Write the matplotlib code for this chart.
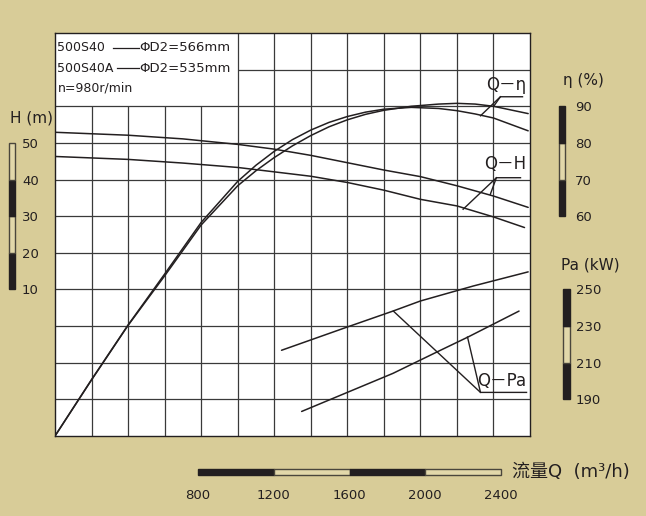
import numpy as np
import matplotlib
matplotlib.use('Agg')
import matplotlib.pyplot as plt
from matplotlib.lines import Line2D

plt.rcParams['font.family'] = ['DejaVu Sans', 'Noto Sans CJK SC']

BG = '#d8cc98'
LIGHT = '#e2d8aa'
INK = '#231f20'
EDGE = '#4a463c'
W, H = 646, 516

# Q-η (效率)
q_eta = [0, 200, 400, 600, 800, 1000, 1100, 1200, 1300, 1400, 1500, 1600,
         1700, 1800, 1950, 2100, 2200, 2300, 2400, 2590]
eta_566 = [0, 15.3, 30.2, 43.7, 57.6, 68.3, 72.4, 76.0, 79.2, 82.0, 84.4, 86.3,
           87.8, 88.9, 90.0, 90.6, 90.8, 90.6, 90.0, 88.0]
eta_535 = [0, 15.4, 30.3, 44.2, 58.3, 69.5, 73.9, 77.7, 80.9, 83.5, 85.6, 87.2,
           88.4, 89.2, 89.7, 89.4, 88.8, 87.9, 86.8, 83.3]

# Q-H (扬程)
q_h566 = [0, 400, 700, 1000, 1200, 1400, 1600, 1800, 2000, 2200, 2400, 2590]
h_566 = [52.9, 52.1, 51.1, 49.6, 48.3, 46.6, 44.6, 42.6, 40.8, 38.3, 35.5, 32.4]
q_h535 = [0, 400, 700, 1000, 1200, 1400, 1600, 1800, 2000, 2200, 2400, 2570]
h_535 = [46.3, 45.5, 44.5, 43.3, 42.1, 40.9, 39.2, 37.1, 34.6, 32.8, 29.8, 26.9]

# Q-Pa (轴功率)
q_pa566 = [1240, 1600, 1850, 2000, 2290, 2590]
pa_566 = [216.8, 229.5, 238.2, 243.7, 251.9, 259.6]
q_pa535 = [1350, 1850, 2110, 2260, 2540]
pa_535 = [183.4, 204.2, 216.8, 224.0, 238.2]

# 刻度条
h_ticks = [10, 20, 30, 40, 50]
eta_ticks = [60, 70, 80, 90]
pa_ticks = [190, 210, 230, 250]
q_ticks = [800, 1200, 1600, 2000, 2400]


def fx(px):
    return px / W


def fy(py):
    return 1 - py / H


fig = plt.figure(figsize=(W / 100, H / 100), dpi=100, facecolor=BG)

# 主图区
rect = [fx(55), fy(436), fx(530) - fx(55), fy(33) - fy(436)]
ax = fig.add_axes(rect)
ax.set_xlim(0, 2600)
ax.set_ylim(0, 110)
ax.set_facecolor('white')
ax.set_xticks([])
ax.set_yticks([])
for s in ax.spines.values():
    s.set_color(INK)
    s.set_linewidth(1.0)

grid_kw = dict(color='#3a3a3a', lw=0.9, zorder=1)
for q in range(200, 2600, 200):
    ax.vlines(q, 0, 90 if q < 1000 else 110, **grid_kw)
for e in range(10, 110, 10):
    ax.hlines(e, 1000 if e == 100 else 0, 2600, **grid_kw)

axH = ax.twinx()
axH.set_ylim(-30, 80)
axP = ax.twinx()
axP.set_ylim(170, 390)
for a in (axH, axP):
    a.axis('off')

line_kw = dict(color=INK, lw=1.1, solid_capstyle='round')
ax.plot(q_eta, eta_566, **line_kw, zorder=3)
ax.plot(q_eta, eta_535, **line_kw, zorder=3)
axH.plot(q_h566, h_566, **line_kw)
axH.plot(q_h535, h_535, **line_kw)
axP.plot(q_pa566, pa_566, **line_kw)
axP.plot(q_pa535, pa_535, **line_kw)

# 标注
lead_kw = dict(color=INK, lw=1.0)
ax.plot([2400, 2438, 2559], [89.9, 92.6, 92.6], **lead_kw)
ax.plot([2329, 2438], [87.4, 92.6], **lead_kw)
ax.text(2471, 95.9, 'Q－η', fontsize=12, ha='center', va='center', color=INK)

axH.plot([2383, 2416, 2548], [36.0, 40.5, 40.5], **lead_kw)
axH.plot([2234, 2416], [31.9, 40.5], **lead_kw)
axH.text(2466, 44.2, 'Q－H', fontsize=12, ha='center', va='center', color=INK)

axP.plot([1852, 2329, 2581], [238.2, 193.8, 193.8], **lead_kw)
axP.plot([2258, 2329], [224.0, 193.8], **lead_kw)
axP.text(2444, 199.9, 'Q－Pa', fontsize=12, ha='center', va='center', color=INK)

# 说明框
fig.text(fx(57), fy(48), '500S40', fontsize=9, va='center', color=INK)
fig.text(fx(139), fy(48), 'ΦD2=566mm', fontsize=9.5, va='center', color=INK)
fig.text(fx(57), fy(68), '500S40A', fontsize=9, va='center', color=INK)
fig.text(fx(139), fy(68), 'ΦD2=535mm', fontsize=9.5, va='center', color=INK)
fig.text(fx(58), fy(88), 'n=980r/min', fontsize=9, va='center', color=INK)
fig.add_artist(Line2D([fx(113), fx(139)], [fy(48), fy(48)], color=INK, lw=0.9))
fig.add_artist(Line2D([fx(117), fx(139)], [fy(68), fy(68)], color=INK, lw=0.9))


def scale_bar(x0, x1, lims, ticks, pad):
    b = fig.add_axes([fx(x0), rect[1], fx(x1) - fx(x0), rect[3]])
    b.set_facecolor('none')
    b.set_xlim(-0.5, 0.5)
    b.set_ylim(*lims)
    step = ticks[1] - ticks[0]
    for i, t in enumerate(ticks[:-1]):
        dark = i % 2 == 0
        bars = b.bar(0, step, bottom=t, width=1, color=INK if dark else LIGHT,
                     edgecolor=INK if dark else EDGE, lw=1.0)
        for p in bars:
            p.set_clip_on(False)
    b.set_xticks([])
    b.set_yticks(ticks)
    b.yaxis.tick_right()
    b.tick_params(axis='y', length=0, pad=pad, labelsize=9.5, labelcolor=INK)
    for s in b.spines.values():
        s.set_visible(False)
    return b


scale_bar(9, 15, (-30, 80), h_ticks, 5)
scale_bar(559, 565, (0, 110), eta_ticks, 7)
scale_bar(563, 570, (170, 390), pa_ticks, 4)

# 流量条
bq = fig.add_axes([fx(198), fy(475), fx(501) - fx(198), fy(469) - fy(475)])
bq.set_facecolor('none')
bq.set_xlim(q_ticks[0], q_ticks[-1])
bq.set_ylim(-0.5, 0.5)
for i, t in enumerate(q_ticks[:-1]):
    dark = i % 2 == 0
    bars = bq.barh(0, 400, left=t, height=1, color=INK if dark else LIGHT,
                   edgecolor=INK if dark else EDGE, lw=1.0)
    for p in bars:
        p.set_clip_on(False)
bq.set_yticks([])
bq.set_xticks(q_ticks)
bq.tick_params(axis='x', length=0, pad=10, labelsize=9.5, labelcolor=INK)
for s in bq.spines.values():
    s.set_visible(False)

# 轴标题
fig.text(fx(10), fy(118), 'H (m)', fontsize=11, va='center', color=INK)
fig.text(fx(563), fy(80), 'η (%)', fontsize=11, va='center', color=INK)
fig.text(fx(561), fy(265), 'Pa (kW)', fontsize=11, va='center', color=INK)
fig.text(fx(512), fy(472), '流量Q  (m³/h)', fontsize=13, va='center', color=INK)

fig.savefig('out.png', dpi=100, facecolor=BG)
